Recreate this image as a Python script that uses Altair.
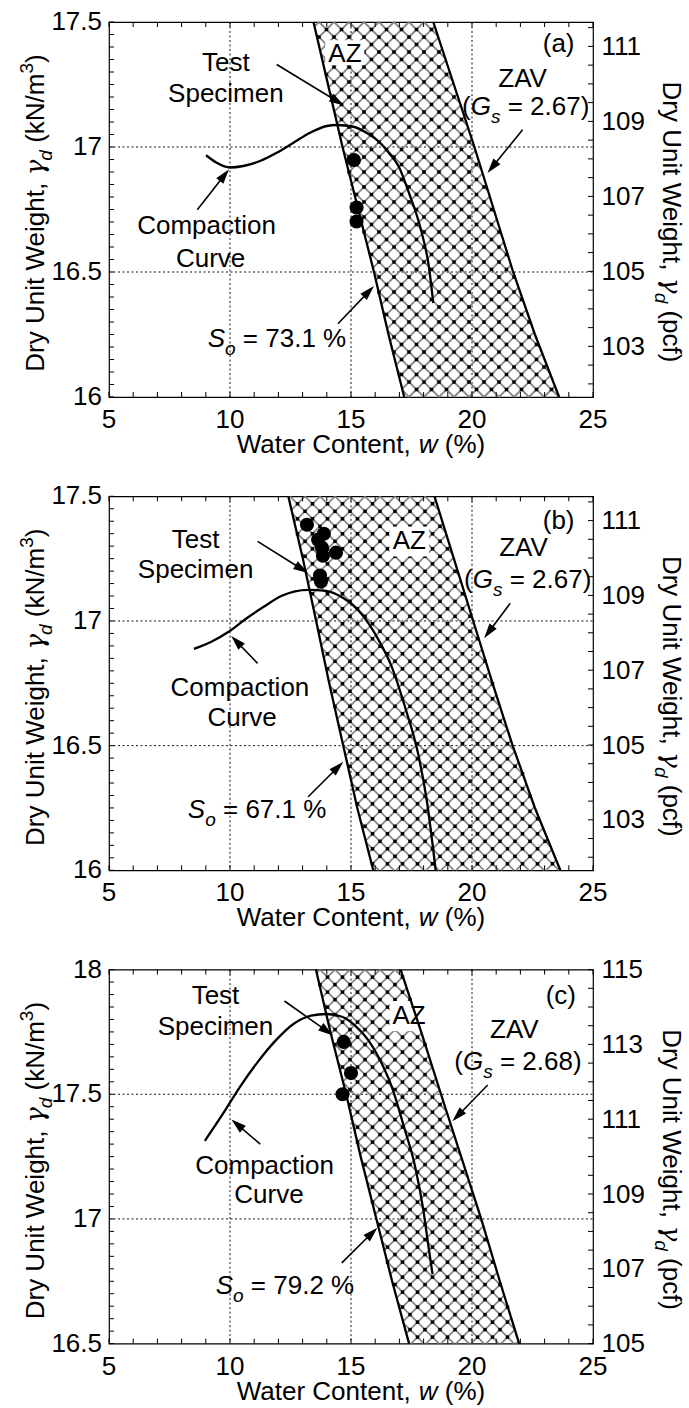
import math
import numpy as np
import pandas as pd
import altair as alt

FONT = "Liberation Sans"
GREEK = "DejaVu Serif"
FS = 26          # main text size (px)
SUB = 19         # sub/superscript size (px)
W = 484          # plot width (px)
HATCH = 15.0     # diamond width of the cross-hatch (px)
HEAD = 15.0      # arrow-head length (px)

# ------------------------------------------------------------------ data
# unit-weight levels (kN/m^3) at which the band limits are tabulated
lev_ab = [17.5, 17.25, 17.0, 16.75, 16.5, 16.25, 16.0]
lev_c = [18.0, 17.75, 17.5, 17.25, 17.0, 16.75, 16.5]

# panel (a): So = 73.1 %, Gs = 2.67
a_so_w = [13.45, 14.05, 14.65, 15.3, 15.95, 16.55, 17.2]
a_zav_w = [18.4, 19.25, 20.1, 20.9, 21.7, 22.6, 23.6]
a_cc_w = [9.01, 9.45, 10.0, 10.55, 11.24, 11.93, 12.62, 13.31, 14.0, 14.41,
          15.1, 15.64, 16.2, 16.61, 16.96, 17.4, 17.86, 18.22, 18.4]
a_cc_g = [16.967, 16.937, 16.918, 16.924, 16.944, 16.977, 17.017, 17.057, 17.084, 17.088,
          17.081, 17.057, 17.017, 16.971, 16.924, 16.815, 16.68, 16.52, 16.376]
a_sp_w = [15.12, 15.23, 15.23]
a_sp_g = [16.948, 16.758, 16.702]

# panel (b): So = 67.1 %, Gs = 2.67
b_so_w = [12.41, 13.01, 13.56, 14.1, 14.68, 15.26, 15.92]
b_zav_w = [18.45, 19.25, 20.05, 20.85, 21.68, 22.6, 23.65]
b_cc_w = [8.51, 9.23, 9.96, 10.69, 11.41, 12.14, 13.23, 13.96, 14.68, 15.41,
          16.14, 16.68, 17.23, 17.77, 18.13, 18.5]
b_cc_g = [16.888, 16.917, 16.958, 17.011, 17.058, 17.101, 17.125, 17.121, 17.092, 17.031,
          16.924, 16.817, 16.656, 16.469, 16.281, 16.0]
b_sp_w = [13.18, 13.88, 13.64, 13.8, 13.84, 14.38, 13.72, 13.76]
b_sp_g = [17.386, 17.35, 17.326, 17.294, 17.262, 17.274, 17.182, 17.158]

# panel (c): So = 79.2 %, Gs = 2.68
c_so_w = [13.55, 14.15, 14.8, 15.4, 16.05, 16.7, 17.4]
c_zav_w = [17.05, 17.9, 18.72, 19.55, 20.38, 21.15, 21.95]
c_cc_w = [8.96, 9.69, 10.42, 11.15, 11.89, 12.62, 13.35, 13.99, 14.63, 15.17,
          15.72, 16.27, 16.73, 17.18, 17.64, 18.0, 18.19, 18.37]
c_cc_g = [17.313, 17.419, 17.531, 17.63, 17.716, 17.782, 17.815, 17.822, 17.811, 17.775,
          17.716, 17.623, 17.518, 17.372, 17.214, 17.029, 16.897, 16.778]
c_sp_w = [14.7, 15.0, 14.65]
c_sp_g = [17.71, 17.585, 17.50]

x_ticks = [5, 10, 15, 20, 25]
x_grid = [10, 15, 20]

panels = [
    dict(tag="(a)", H=375, ymin=16.0, ymax=17.5, yticks=[16, 16.5, 17, 17.5], ygrid=[16.5, 17],
         pmin=101.65, pmax=111.65, pticks=[103, 105, 107, 109, 111],
         lev=lev_ab, so=a_so_w, zav=a_zav_w, ccw=a_cc_w, ccg=a_cc_g, spw=a_sp_w, spg=a_sp_g,
         so_txt=" = 73.1 %", gs_txt=" = 2.67)",
         pos=dict(test=(9.83, 17.338), spec=(9.83, 17.211), az=(14.75, 17.371),
                  azbox=(13.93, 15.55, 17.427, 17.327), zav=(22.09, 17.272), gs=(22.22, 17.162),
                  comp=(9.03, 16.683), curve=(9.2, 16.554), so=(11.94, 16.232), tag=(23.58, 17.414)),
         arrows=[(11.93, 17.33, 14.71, 17.166), (22.09, 17.069, 20.64, 16.896),
                 (8.65, 16.749, 9.96, 16.911), (14.46, 16.293, 15.95, 16.444)]),
    dict(tag="(b)", H=374, ymin=16.0, ymax=17.5, yticks=[16, 16.5, 17, 17.5], ygrid=[16.5, 17],
         pmin=101.65, pmax=111.65, pticks=[103, 105, 107, 109, 111],
         lev=lev_ab, so=b_so_w, zav=b_zav_w, ccw=b_cc_w, ccg=b_cc_g, spw=b_sp_w, spg=b_sp_g,
         so_txt=" = 67.1 %", gs_txt=" = 2.67)",
         pos=dict(test=(8.58, 17.326), spec=(8.58, 17.205), az=(17.41, 17.319),
                  azbox=(16.59, 18.22, 17.379, 17.259), zav=(22.13, 17.292), gs=(22.3, 17.165),
                  comp=(10.41, 16.73), curve=(10.5, 16.609), so=(11.12, 16.241), tag=(23.58, 17.4)),
         arrows=[(11.14, 17.319, 13.23, 17.192), (21.58, 17.071, 20.5, 16.931),
                 (11.14, 16.83, 10.05, 16.94), (13.23, 16.295, 14.68, 16.435)]),
    dict(tag="(c)", H=374, ymin=16.5, ymax=18.0, yticks=[16.5, 17, 17.5, 18], ygrid=[17, 17.5],
         pmin=105.0, pmax=115.0, pticks=[105, 107, 109, 111, 113, 115],
         lev=lev_c, so=c_so_w, zav=c_zav_w, ccw=c_cc_w, ccg=c_cc_g, spw=c_sp_w, spg=c_sp_g,
         so_txt=" = 79.2 %", gs_txt=" = 2.68)",
         pos=dict(test=(9.4, 17.894), spec=(9.4, 17.769), az=(17.4, 17.815),
                  azbox=(16.6, 18.2, 17.874, 17.753), zav=(21.75, 17.756), gs=(21.9, 17.63),
                  comp=(11.43, 17.214), curve=(11.61, 17.095), so=(12.27, 16.731), tag=(23.67, 17.894)),
         arrows=[(12.25, 17.874, 14.26, 17.736), (20.65, 17.537, 19.19, 17.392),
                 (11.25, 17.3, 10.06, 17.399), (14.62, 16.824, 16.09, 16.965)]),
]

# ------------------------------------------------------------------ text helpers
ADV = {' ': 278, '(': 333, ')': 333, '%': 889, ',': 278, '.': 278, '=': 584, '/': 278,
       'A': 667, 'C': 722, 'D': 722, 'G': 778, 'N': 722, 'S': 667, 'T': 667, 'U': 722,
       'V': 667, 'W': 944, 'Z': 611, 'a': 556, 'c': 500, 'd': 556, 'e': 556, 'f': 278,
       'g': 556, 'h': 556, 'i': 222, 'k': 500, 'm': 833, 'n': 556, 'o': 556, 'p': 556,
       'r': 333, 's': 500, 't': 278, 'u': 556, 'v': 500, 'w': 722, 'y': 500, 'γ': 560}


def text_width(s, size):
    return sum(ADV.get(ch, 556) for ch in s) * size / 1000.0


# kind -> (size, baseline shift, style, font)
STYLES = {"n": (FS, 0, "normal", FONT), "i": (FS, 0, "italic", FONT),
          "g": (FS, 0, "italic", GREEK),
          "sub": (SUB, 8, "italic", FONT), "sup": (SUB, -11, "normal", FONT)}


def rich(segments, base, angle=None, base_dy=0):
    """Centered run of differently styled pieces sharing one anchor."""
    offs, x = [], 0.0
    for txt, kind in segments:
        offs.append(x)
        x += text_width(txt, STYLES[kind][0])
    start = -x / 2.0
    out = []
    for (txt, kind), o in zip(segments, offs):
        fs, dy, st, fam = STYLES[kind]
        lead = len(txt) - len(txt.lstrip(" "))
        shown = txt.strip(" ")
        kw = dict(text=shown, align="left", baseline="alphabetic",
                  dx=start + o + text_width(" " * lead, fs), dy=dy + base_dy,
                  font=fam, fontSize=fs, fontStyle=st, color="black")
        if angle:
            kw["angle"] = angle
        out.append(base().mark_text(**kw))
    return out


# ------------------------------------------------------------------ panel builder
def make_panel(p):
    H = p["H"]
    y0, y1 = p["ymin"], p["ymax"]
    xs = alt.Scale(domain=[5, 25], nice=False, zero=False)
    ys = alt.Scale(domain=[y0, y1], nice=False, zero=False)

    def X(f):
        return alt.X(f, type="quantitative", scale=xs, axis=None)

    def Y(f):
        return alt.Y(f, type="quantitative", scale=ys, axis=None)

    def to_px(w, g):
        return (w - 5) / 20 * W, (y1 - g) / (y1 - y0) * H

    def to_data(px, py):
        return 5 + px / W * 20, y1 - py / H * (y1 - y0)

    def at(w, g):
        return lambda: alt.Chart(pd.DataFrame({"x": [w], "y": [g]})).encode(x=X("x"), y=Y("y"))

    def pix(px, py):
        return lambda: alt.Chart(pd.DataFrame({"k": [0]})).encode(x=alt.value(px), y=alt.value(py))

    layers = []

    # dotted grid
    gx = pd.DataFrame({"v": x_grid})
    gy = pd.DataFrame({"v": p["ygrid"]})
    layers.append(alt.Chart(gx).mark_rule(color="#111", strokeWidth=1, strokeDash=[2, 2.5])
                  .encode(x=X("v"), y=alt.value(0), y2=alt.value(H)))
    layers.append(alt.Chart(gy).mark_rule(color="#111", strokeWidth=1, strokeDash=[2, 2.5])
                  .encode(y=Y("v"), x=alt.value(0), x2=alt.value(W)))

    # cross-hatch between the So line and the ZAV line
    lev = np.array(p["lev"])
    pyb = (y1 - lev) / (y1 - y0) * H
    pxl = (np.array(p["so"]) - 5) / 20 * W
    pxr = (np.array(p["zav"]) - 5) / 20 * W
    order = np.argsort(pyb)
    pyb, pxl, pxr = pyb[order], pxl[order], pxr[order]
    py = np.linspace(0, H, 4000)
    xl = np.interp(py, pyb, pxl)
    xr = np.interp(py, pyb, pxr)
    segs = []
    cs = np.arange(-H - HATCH * 3, W + H + HATCH * 3, HATCH)
    for fam in (1, -1):
        for c in cs:
            px = fam * py + c
            inside = (px >= xl) & (px <= xr) & (px >= 0) & (px <= W)
            idx = np.nonzero(inside)[0]
            if len(idx) < 2:
                continue
            a0, a1 = idx[0], idx[-1]
            wa, ga = to_data(px[a0], py[a0])
            wb, gb = to_data(px[a1], py[a1])
            segs.append((wa, ga, wb, gb))
    hatch = pd.DataFrame(segs, columns=["x", "y", "x2", "y2"])
    layers.append(alt.Chart(hatch).mark_rule(color="#7a7a7a", strokeWidth=1.8, opacity=0.9)
                  .encode(x=X("x"), y=Y("y"), x2="x2:Q", y2="y2:Q"))
    # darker knots where the hatch lines cross
    knots = []
    for c1 in cs:
        for c2 in cs:
            kx, ky = (c1 + c2) / 2.0, (c2 - c1) / 2.0
            if 0 < ky < H and 0 < kx < W:
                if np.interp(ky, pyb, pxl) < kx < np.interp(ky, pyb, pxr):
                    knots.append(to_data(kx, ky))
    kd = pd.DataFrame(knots, columns=["x", "y"])
    layers.append(alt.Chart(kd).mark_square(color="black", size=12, opacity=1)
                  .encode(x=X("x"), y=Y("y")))

    # white box under "AZ"
    bx0, bx1, by0, by1 = p["pos"]["azbox"]
    layers.append(alt.Chart(pd.DataFrame({"x": [bx0], "x2": [bx1], "y": [by0], "y2": [by1]}))
                  .mark_rect(color="white").encode(x=X("x"), x2="x2:Q", y=Y("y"), y2="y2:Q"))

    # So line and ZAV line
    for arr in (p["so"], p["zav"]):
        d = pd.DataFrame({"x": arr, "y": p["lev"]})
        layers.append(alt.Chart(d).mark_line(color="black", strokeWidth=2.3)
                      .encode(x=X("x"), y=Y("y"), order="y:Q"))

    # compaction curve
    cc = pd.DataFrame({"x": p["ccw"], "y": p["ccg"]})
    layers.append(alt.Chart(cc).mark_line(color="black", strokeWidth=2.3, interpolate="monotone")
                  .encode(x=X("x"), y=Y("y")))

    # test specimens
    sp = pd.DataFrame({"x": p["spw"], "y": p["spg"]})
    layers.append(alt.Chart(sp).mark_circle(color="black", size=200, opacity=1)
                  .encode(x=X("x"), y=Y("y")))

    # arrows
    shafts, heads = [], []
    for (xa, ya, xb, yb) in p["arrows"]:
        pa, pb = to_px(xa, ya), to_px(xb, yb)
        dx, dy = pb[0] - pa[0], pb[1] - pa[1]
        L = math.hypot(dx, dy)
        ux, uy = dx / L, dy / L
        hc = (pb[0] - ux * HEAD / 2, pb[1] - uy * HEAD / 2)
        se = (pb[0] - ux * HEAD * 0.7, pb[1] - uy * HEAD * 0.7)
        sx2, sy2 = to_data(*se)
        shafts.append((xa, ya, sx2, sy2))
        hx, hy = to_data(*hc)
        heads.append((hx, hy, math.degrees(math.atan2(ux, -uy)) % 360))
    sd = pd.DataFrame(shafts, columns=["x", "y", "x2", "y2"])
    hd = pd.DataFrame(heads, columns=["x", "y", "ang"])
    layers.append(alt.Chart(sd).mark_rule(color="black", strokeWidth=1.6)
                  .encode(x=X("x"), y=Y("y"), x2="x2:Q", y2="y2:Q"))
    layers.append(alt.Chart(hd).mark_point(shape="M0,-1L0.6,1L-0.6,1Z", filled=True, color="black",
                                           opacity=1, size=HEAD * HEAD)
                  .encode(x=X("x"), y=Y("y"), angle=alt.Angle("ang:Q", scale=None)))

    # annotation labels
    pos = p["pos"]
    for key, txt in (("test", "Test"), ("spec", "Specimen"), ("az", "AZ"), ("zav", "ZAV"),
                     ("comp", "Compaction"), ("curve", "Curve"), ("tag", p["tag"])):
        layers.append(at(*pos[key])().mark_text(text=txt, align="center", baseline="middle",
                                                font=FONT, fontSize=FS, color="black"))
    layers += rich([("S", "i"), ("o", "sub"), (p["so_txt"], "n")], at(*pos["so"]), base_dy=8)
    layers += rich([("(", "n"), ("G", "i"), ("s", "sub"), (p["gs_txt"], "n")], at(*pos["gs"]), base_dy=8)

    # axis titles
    layers += rich([("Water Content, ", "n"), ("w", "i"), (" (%)", "n")], pix(W / 2 + 10, H + 56))
    layers += rich([("Dry Unit Weight, ", "n"), ("γ", "g"), ("d", "sub"), (" (kN/m", "n"),
                    ("3", "sup"), (")", "n")], pix(-65, 191), angle=270)
    layers += rich([("Dry Unit Weight, ", "n"), ("γ", "g"), ("d", "sub"), (" (pcf)", "n")],
                   pix(W + 70, 200), angle=90)

    # inward ticks on left, bottom and top
    lt = pd.DataFrame({"v": np.round(np.arange(y0, y1 + 1e-9, 0.05), 2)})
    layers.append(alt.Chart(lt).mark_rule(color="black", strokeWidth=1)
                  .encode(y=Y("v"), x=alt.value(0), x2=alt.value(5)))
    bt = pd.DataFrame({"v": list(range(5, 26))})
    layers.append(alt.Chart(bt).mark_rule(color="black", strokeWidth=1)
                  .encode(x=X("v"), y=alt.value(H), y2=alt.value(H - 5)))
    layers.append(alt.Chart(bt).mark_rule(color="black", strokeWidth=1)
                  .encode(x=X("v"), y=alt.value(0), y2=alt.value(5)))

    # tick labels on the left (kN/m^3) and bottom (%)
    yl = pd.DataFrame({"v": p["yticks"], "lab": [f"{v:g}" for v in p["yticks"]]})
    layers.append(alt.Chart(yl).mark_text(align="right", baseline="middle", font=FONT,
                                          fontSize=FS, color="black")
                  .encode(y=Y("v"), x=alt.value(-7), text="lab:N"))
    xl_ = pd.DataFrame({"v": x_ticks, "lab": [str(v) for v in x_ticks]})
    layers.append(alt.Chart(xl_).mark_text(align="center", baseline="middle", font=FONT,
                                           fontSize=FS, color="black")
                  .encode(x=X("v"), y=alt.value(H + 23), text="lab:N"))

    # right-hand axis in pcf
    rv = np.arange(math.ceil(p["pmin"] * 2) / 2, p["pmax"] + 1e-9, 0.5)
    rt = pd.DataFrame({"v": rv})
    right = (alt.Chart(rt).mark_rule(color="black", strokeWidth=1)
             .encode(y=alt.Y("v:Q", scale=alt.Scale(domain=[p["pmin"], p["pmax"]], nice=False, zero=False),
                             axis=alt.Axis(orient="right", values=p["pticks"], format="d",
                                           ticks=False, domain=False, grid=False,
                                           labelPadding=8, title=None)),
                     x=alt.value(W - 5), x2=alt.value(W)))

    return (alt.layer(*layers, right)
            .resolve_scale(y="independent")
            .properties(width=W, height=H))


chart = (alt.vconcat(*[make_panel(p) for p in panels], spacing=99.3, bounds="flush")
         .properties(padding={"left": 17, "top": 8, "right": 2, "bottom": 0})
         .configure_view(stroke="black", strokeWidth=1.2)
         .configure_axis(labelFont=FONT, labelFontSize=FS, labelColor="black"))

chart.save("out.html", embed_options={"renderer": "svg", "actions": False})
